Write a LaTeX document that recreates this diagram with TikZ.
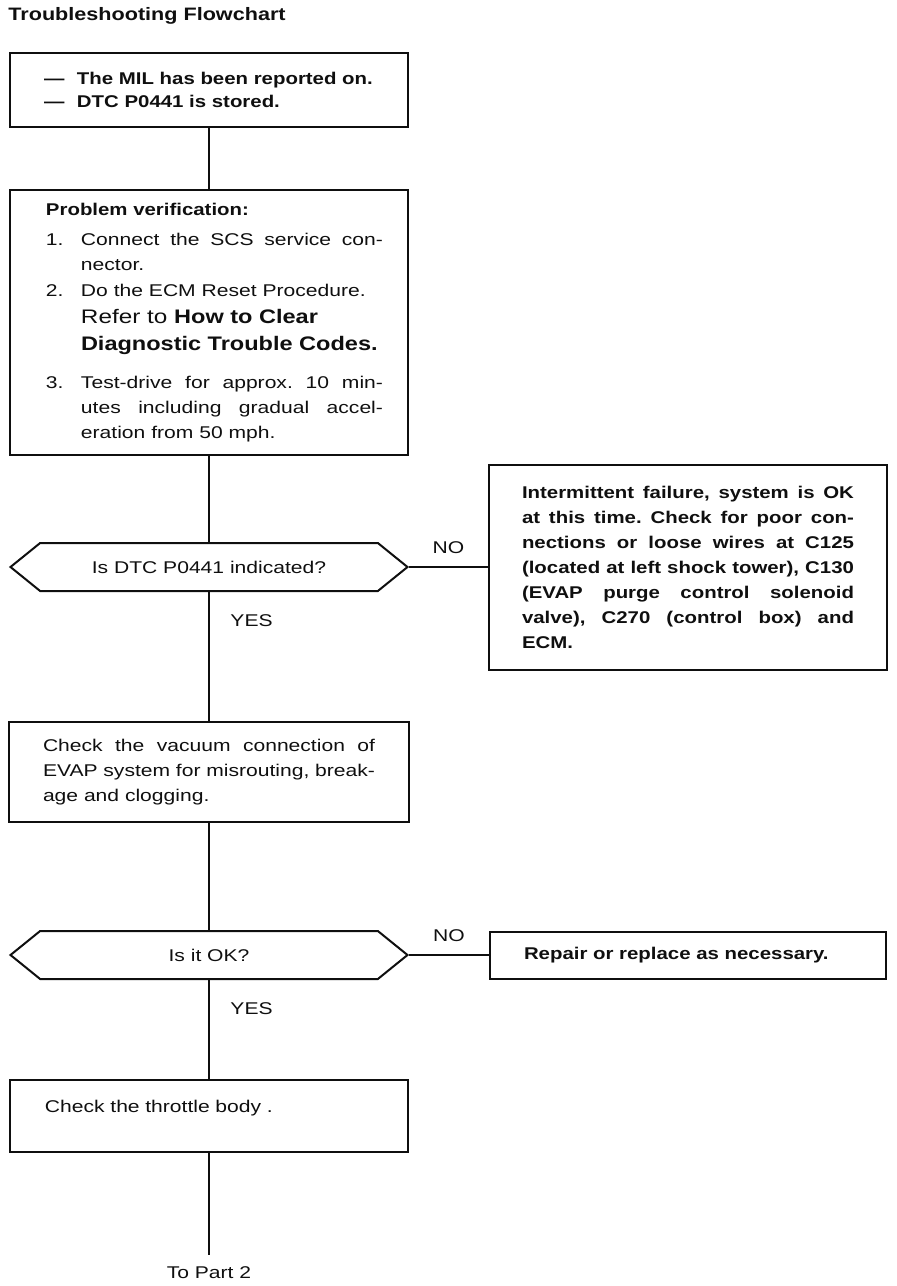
\documentclass[tikz,border=0pt]{standalone}
\usepackage{fontspec}
\setmainfont{Liberation Sans}[FakeStretch=1.24, BoldFeatures={FakeStretch=1.2}]
\usepackage{tikz}
\usetikzlibrary{positioning, shapes.symbols}
\definecolor{tinta}{RGB}{15, 15, 15}
\tikzset{
    caja/.style={draw=tinta, rectangle, line width=1pt, inner xsep=17.5pt, text width=164pt, align=left, text=tinta, font=\fontsize{8.5}{12.5}\selectfont},
    cajaJ/.style={caja, align=justify, inner xsep=16.5pt, text width=166pt},
    cajaP/.style={cajaJ, inner xsep=12.5pt, text width=174pt},
    preg/.style={draw=tinta, signal, signal to=west and east, signal pointer angle=78, line width=1pt, minimum width=198.5pt, minimum height=24pt, inner sep=0pt, text=tinta, font=\fontsize{8.5}{12.5}\selectfont},
    conn/.style={-, tinta, line width=0.8pt},
    etiq/.style={text=tinta, font=\fontsize{8.5}{10}\selectfont},
    titulo/.style={text=tinta, inner sep=0pt, font=\fontsize{9}{11}\selectfont\bfseries},
}
\newcommand{\paso}[2]{\makebox[17.5pt][l]{#1}{#2}}
\newcommand{\raya}{\makebox[16.5pt][l]{---}}
\newcommand{\grande}{\fontsize{9.8}{12}\selectfont}

\begin{document}
\frenchspacing
\begin{tikzpicture}[x=0.5pt, y=-0.5pt]
        \useasboundingbox (0,0) rectangle (896,1286);

        \node[titulo, anchor=west] (tit) at (8,16) {Troubleshooting Flowchart};

        \node[caja, inner xsep=17pt, text width=165pt, minimum height=37pt] (b1) at (209,90) {%
            \textbf{\raya The MIL has been reported on.}\\[-1pt]
            \textbf{\raya DTC P0441 is stored.}};

        \node[cajaP, minimum height=132.5pt] (b2) at (209,322.5) {%
            \leftskip=5.5pt
            \textbf{Problem verification:}\\[2.5pt]
            \paso{1.}{Connect the SCS service con-}\linebreak
            \paso{}{nector.}\\[0.5pt]
            \paso{2.}{Do the ECM Reset Procedure.}\\[1pt]
            \paso{}{\grande Refer to \textbf{How to Clear}}\\[1pt]
            \paso{}{\grande\textbf{Diagnostic Trouble Codes.}}\\[6.5pt]
            \paso{3.}{Test-drive for approx. 10 min-}\linebreak
            \paso{}{utes including gradual accel-}\linebreak
            \paso{}{eration from 50 mph.}\par};

        \node[preg] (q1) at (209,567) {Is DTC P0441 indicated?};

        \node[cajaJ, minimum height=102.5pt] (b3) at (688,567) {%
            \textbf{Intermittent failure, system is OK\linebreak
            at this time. Check for poor con-\linebreak
            nections or loose wires at C125\linebreak
            (located at left shock tower), C130\linebreak
            (EVAP purge control solenoid\linebreak
            valve), C270 (control box) and\linebreak
            ECM.}};

        \node[cajaJ, inner xsep=17pt, minimum height=50pt] (b4) at (209,772) {%
            Check the vacuum connection of\linebreak
            EVAP system for misrouting, break-\linebreak
            age and clogging.};

        \node[preg] (q2) at (209,955) {Is it OK?};

        \node[caja, inner xsep=17pt, minimum height=23.5pt] (b5) at (688,955) {\textbf{Repair or replace as necessary.}};

        \node[caja, minimum height=36pt, text depth=10pt] (b6) at (209,1116) {Check the throttle body .};

        \node[etiq, inner ysep=6pt] (fin) at (209,1273) {To Part 2};

        \draw[conn] (b1) -- (b2);
        \draw[conn] (b2) -- (q1);
        \draw[conn] (q1.east) -- node[etiq, above=3pt] {NO} (b3.west);
        \draw[conn] (q1.south) -- node[etiq, right=7pt, pos=0.22] {YES} (b4.north);
        \draw[conn] (b4) -- (q2);
        \draw[conn] (q2.east) -- node[etiq, above=3pt] {NO} (b5.west);
        \draw[conn] (q2.south) -- node[etiq, right=7pt, pos=0.29] {YES} (b6.north);
        \draw[conn] (b6) -- (fin);
    \end{tikzpicture}
\end{document}
